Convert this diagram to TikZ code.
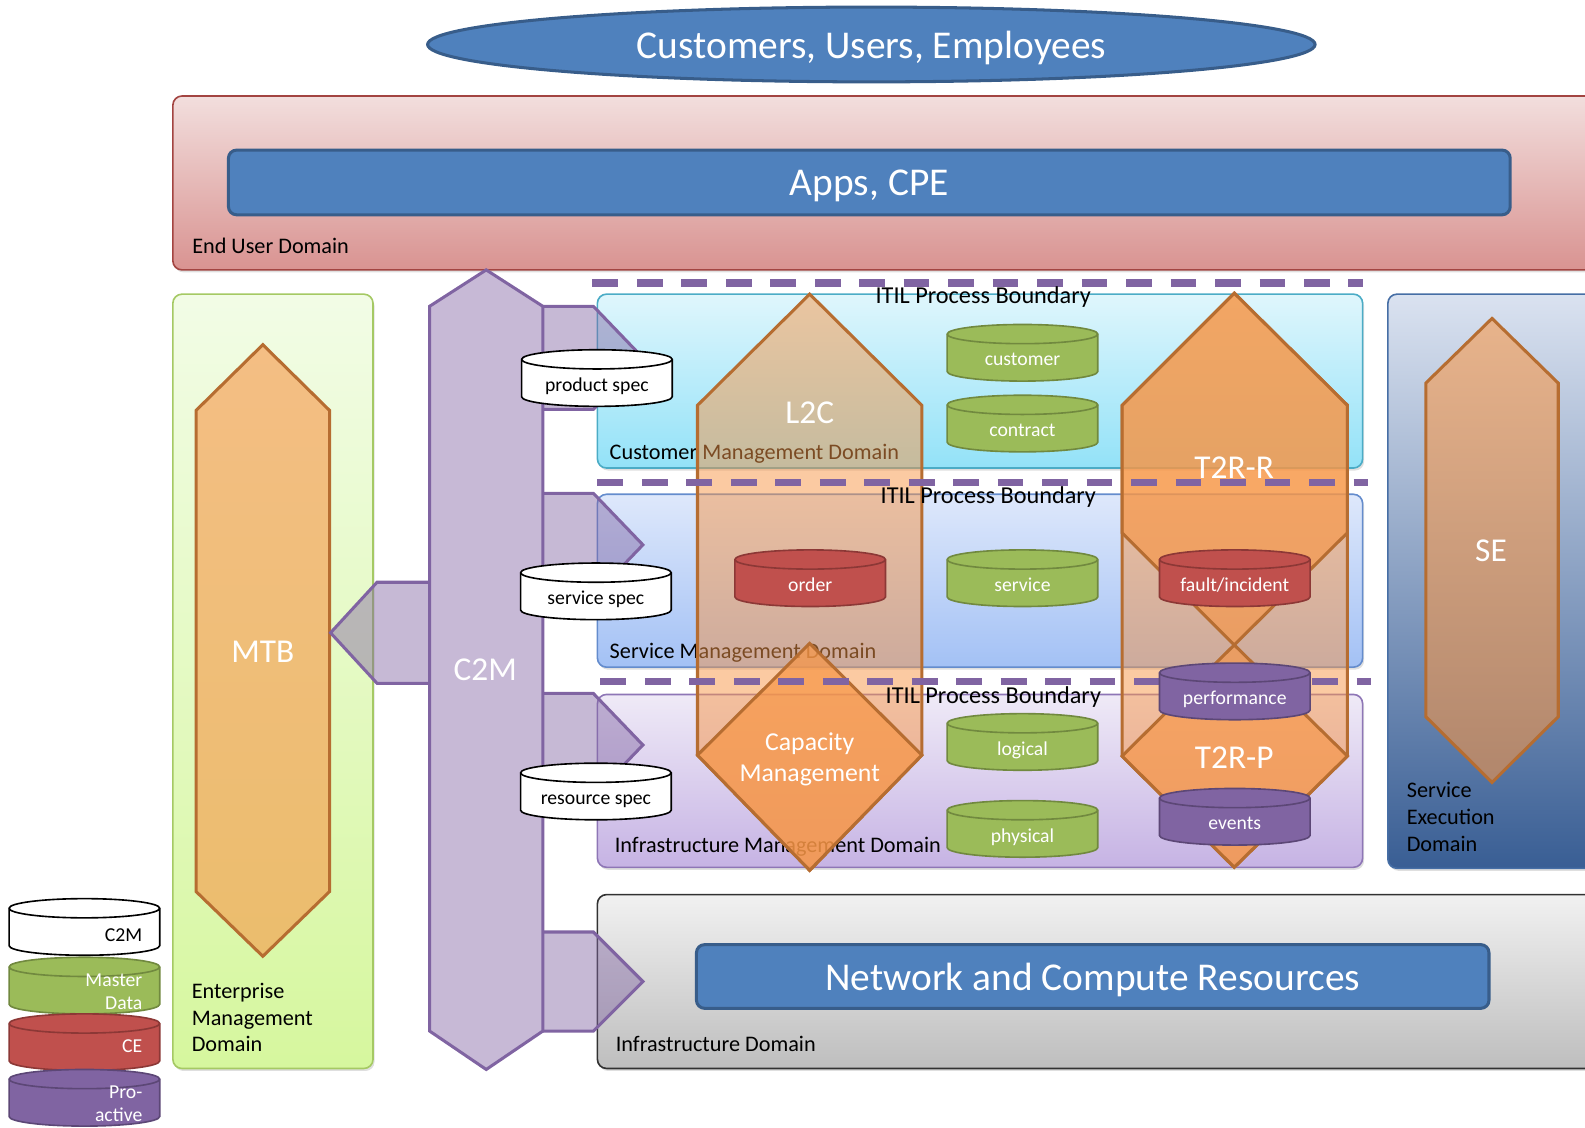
\documentclass[tikz,border=0pt]{standalone}
\usepackage{fontspec}
\setmainfont{Carlito}
\usetikzlibrary{shapes.geometric,shadows}
\definecolor{blueA}{HTML}{4F81BD}
\definecolor{blueD}{HTML}{385D8A}
\definecolor{redA}{HTML}{C0504D}
\definecolor{redD}{HTML}{8C3836}
\definecolor{greenA}{HTML}{9BBB59}
\definecolor{greenD}{HTML}{71893F}
\definecolor{purpA}{HTML}{8064A2}
\definecolor{purpD}{HTML}{5C4776}
\definecolor{orangeA}{HTML}{F79646}
\definecolor{orangeD}{HTML}{B66D31}
\definecolor{aquaA}{HTML}{4BACC6}
\definecolor{lav}{HTML}{C7B9D6}
\newcommand\fBig{\fontsize{39}{46}\selectfont}
\newcommand\fShp{\fontsize{33}{40}\selectfont}
\newcommand\fLbl{\fontsize{22}{26.3}\selectfont}
\newcommand\fCyl{\fontsize{19.5}{22.5}\selectfont}
\newcommand\fCap{\fontsize{25.5}{30.7}\selectfont}
\newcommand\fItil{\fontsize{24}{27}\selectfont}
\newcommand\cylbody[4]{%
  \path[fill=#3, draw=#4, line width=1.6pt] (#1-74.5,#2+9.5) -- (#1-74.5,#2+46.5)
    arc[start angle=180,end angle=360,x radius=74.5pt,y radius=9.5pt] -- (#1+74.5,#2+9.5)
    arc[start angle=0,end angle=180,x radius=74.5pt,y radius=9.5pt] -- cycle;
  \draw[#4, line width=1.6pt] (#1-74.5,#2+9.5) arc[start angle=180,end angle=360,x radius=74.5pt,y radius=9.5pt];
}
\begin{document}
\begin{tikzpicture}[x=1pt,y=-1pt,
  dom/.style={rounded corners=9pt, line width=1.6pt, drop shadow={shadow xshift=1.5pt, shadow yshift=-2.5pt, opacity=.25}},
  bluebox/.style={draw=blueD, fill=blueA, line width=3pt, rounded corners=8pt, inner sep=0pt, text=white, font=\fBig, text depth=0pt},
  lbl/.style={anchor=base west, inner sep=0pt, align=left, font=\fLbl, text=black},
  shplbl/.style={inner sep=0pt, text=white, font=\fShp},
  c2marrow/.style={fill=purpA, fill opacity=.45, draw=purpA, line width=3pt, line join=miter},
  hexo/.style={draw=orangeD, line width=3pt, fill=orangeA, line join=miter},
  itil/.style={draw=purpA, line width=7pt, dash pattern=on 25.5pt off 18.5pt},
  itillbl/.style={anchor=base west, inner sep=0pt, font=\fItil, text=black},
  cyltxt/.style={anchor=base, inner sep=0pt, font=\fCyl},
  legtxt/.style={anchor=base east, inner sep=0pt, font=\fCyl, align=right, text=white},
]
\useasboundingbox (0,0) rectangle (1568,1115);
\clip (0,0) rectangle (1568,1115);

% top ellipse
\node[ellipse, draw=blueD, fill=blueA, line width=3pt, minimum width=878pt, minimum height=74pt, inner sep=0pt, text=white, font=\fBig, text depth=0pt] (cue) at (862,44) {Customers, Users, Employees};

% End user domain
\path[dom, draw=redA!85!black, top color={rgb,255:red,242;green,222;blue,221}, bottom color={rgb,255:red,217;green,147;blue,145}] (171,95) rectangle (1600,267);
\node[bluebox, minimum width=1268pt, minimum height=64pt] (apps) at (860,180.5) {Apps, CPE};
\node[lbl] (eud) at (190,251) {End User Domain};

% Enterprise management domain
\path[dom, draw={rgb,255:red,165;green,201;blue,100}, top color={rgb,255:red,242;green,252;blue,230}, bottom color={rgb,255:red,214;green,247;blue,158}] (171,291) rectangle (369,1057);
\node[lbl] (emd) at (189.5,1040.5) {Enterprise\\Management\\Domain};

% Domain boxes
\path[dom, draw=aquaA, top color={rgb,255:red,223;green,246;blue,252}, bottom color={rgb,255:red,147;green,226;blue,248}] (591,291) rectangle (1348,463);
\path[dom, draw={rgb,255:red,100;green,140;blue,205}, top color={rgb,255:red,222;green,232;blue,251}, bottom color={rgb,255:red,163;green,193;blue,245}] (591,489) rectangle (1348,660);
\path[dom, draw={rgb,255:red,142;green,118;blue,182}, top color={rgb,255:red,239;green,234;blue,247}, bottom color={rgb,255:red,198;green,179;blue,228}] (591,687) rectangle (1348,858);
\path[dom, draw={rgb,255:red,50;green,50;blue,50}, top color={rgb,255:red,241;green,241;blue,241}, bottom color={rgb,255:red,190;green,190;blue,190}] (591,885) rectangle (1600,1057);
\path[dom, draw={rgb,255:red,70;green,110;blue,165}, top color={rgb,255:red,218;green,226;blue,240}, middle color={rgb,255:red,170;green,193;blue,224}, bottom color={rgb,255:red,57;green,94;blue,148}] (1373,291) rectangle (1600,859);

\node[lbl] (cmd) at (603,455) {Customer Management Domain};
\node[lbl] (smd) at (603,651) {Service Management Domain};
\node[lbl] (imd) at (608,843) {Infrastructure Management Domain};
\node[lbl] (ind) at (609,1040.5) {Infrastructure Domain};
\node[lbl] (sed) at (1391.5,842) {Service\\Execution\\Domain};

\node[bluebox, minimum width=784pt, minimum height=63pt] (ncr) at (1081,966) {Network and Compute Resources};

% MTB
\path[hexo, fill opacity=.6] (260,341) -- (326,406) -- (326,882) -- (260,946) -- (194,882) -- (194,406) -- cycle;
% C2M
\path[fill=lav, draw=purpA, line width=3pt, line join=miter] (481,267) -- (537,303) -- (537,1020) -- (481,1058) -- (425,1020) -- (425,303) -- cycle;
\path[c2marrow] (425,576) -- (373,576) -- (327,626) -- (373,676) -- (425,676);
\path[c2marrow] (537,303) -- (587,303) -- (636,354) -- (587,405) -- (537,405);
\path[c2marrow] (537,488) -- (587,488) -- (636,539) -- (587,590) -- (537,590);
\path[c2marrow] (537,686) -- (587,686) -- (636,737) -- (587,788) -- (537,788);
\path[c2marrow] (537,922) -- (587,922) -- (636,971) -- (587,1020) -- (537,1020);

% L2C
\path[hexo, fill opacity=.5] (801,291) -- (912,401) -- (912,747) -- (801,861) -- (690,747) -- (690,401) -- cycle;
\path[hexo, fill opacity=.72] (801,636.5) -- (912,747) -- (801,861) -- (690,747) -- cycle;
% T2R
\path[hexo, fill opacity=.5] (1221,290) -- (1333,401) -- (1333,748) -- (1221,858) -- (1110,748) -- (1110,401) -- cycle;
\path[hexo, fill opacity=.66] (1221,290) -- (1333,401) -- (1333,527) -- (1221,638) -- (1110,527) -- (1110,401) -- cycle;
\path[hexo, fill opacity=.66] (1221,638) -- (1333,748) -- (1221,858) -- (1110,748) -- cycle;
% SE
\path[hexo, fill opacity=.58] (1476,315) -- (1541.5,379) -- (1541.5,709) -- (1476,774) -- (1410.5,709) -- (1410.5,379) -- cycle;

\node[shplbl] (mtb) at (260,645) {MTB};
\node[shplbl] (c2m) at (480,663) {C2M};
\node[shplbl] (l2c) at (801,408) {L2C};
\node[shplbl] (t2rr) at (1221,463) {T2R-R};
\node[shplbl] (t2rp) at (1221,750) {T2R-P};
\node[shplbl] (se) at (1475,545) {SE};
\node[anchor=base, inner sep=0pt, align=center, text=white, font=\fCap] (cap) at (801,772.7) {Capacity\\Management};

% ITIL boundaries
\draw[itil] (586,280) -- (1348,280);
\draw[itil] (591,477) -- (1353,477);
\draw[itil] (594,674.5) -- (1356,674.5);
\node[itillbl] (itil1) at (866,300) {ITIL Process Boundary};
\node[itillbl] (itil2) at (871,498) {ITIL Process Boundary};
\node[itillbl] (itil3) at (876,696) {ITIL Process Boundary};

% data stores
\cylbody{590.5}{346}{white}{black}
\node[cyltxt] (pspec) at (590.5,387) {product spec};
\cylbody{589.5}{557}{white}{black}
\node[cyltxt] (sspec) at (589.5,598) {service spec};
\cylbody{589.5}{755}{white}{black}
\node[cyltxt] (rspec) at (589.5,796) {resource spec};
\cylbody{1011.5}{321}{greenA}{greenD}
\node[cyltxt, text=white] (cust) at (1011.5,362) {customer};
\cylbody{1011.5}{391}{greenA}{greenD}
\node[cyltxt, text=white] (contr) at (1011.5,432) {contract};
\cylbody{801.5}{544}{redA}{redD}
\node[cyltxt, text=white] (order) at (801.5,585) {order};
\cylbody{1011.5}{544}{greenA}{greenD}
\node[cyltxt, text=white] (serv) at (1011.5,585) {service};
\cylbody{1221.5}{544}{redA}{redD}
\node[cyltxt, text=white] (fault) at (1221.5,585) {fault/incident};
\cylbody{1221.5}{656}{purpA}{purpD}
\node[cyltxt, text=white] (perf) at (1221.5,697) {performance};
\cylbody{1011.5}{706}{greenA}{greenD}
\node[cyltxt, text=white] (logi) at (1011.5,747) {logical};
\cylbody{1011.5}{792}{greenA}{greenD}
\node[cyltxt, text=white] (phys) at (1011.5,833) {physical};
\cylbody{1221.5}{780}{purpA}{purpD}
\node[cyltxt, text=white] (evts) at (1221.5,821) {events};

% legend
\cylbody{83.5}{889}{white}{black}
\node[legtxt, text=black] (lc2m) at (141,931) {C2M};
\cylbody{83.5}{947}{greenA}{greenD}
\node[legtxt] (lmd) at (141,998.5) {Master\\Data};
\cylbody{83.5}{1003}{redA}{redD}
\node[legtxt] (lce) at (141,1041) {CE};
\cylbody{83.5}{1058}{purpA}{purpD}
\node[legtxt] (lpa) at (141,1109) {Pro-\\active};
\end{tikzpicture}
\end{document}
